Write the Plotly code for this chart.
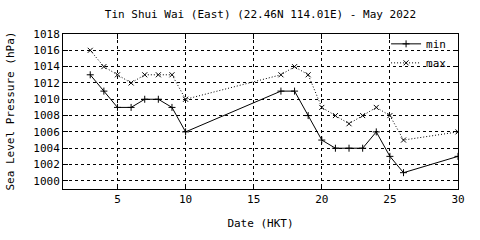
import plotly.graph_objects as go

days_min = [3, 4, 5, 6, 7, 8, 9, 10, 17, 18, 19, 20, 21, 22, 23, 24, 25, 26, 30]
p_min = [1013, 1011, 1009, 1009, 1010, 1010, 1009, 1006, 1011, 1011, 1008, 1005, 1004, 1004, 1004, 1006, 1003, 1001, 1003]
days_max = [3, 4, 5, 6, 7, 8, 9, 10, 17, 18, 19, 20, 21, 22, 23, 24, 25, 26, 30]
p_max = [1016, 1014, 1013, 1012, 1013, 1013, 1013, 1010, 1013, 1014, 1013, 1009, 1008, 1007, 1008, 1009, 1008, 1005, 1006]
x_ticks = [5, 10, 15, 20, 25, 30]
y_ticks = list(range(1000, 1019, 2))
x_range = [1, 30]
y_range = [999, 1018]

FONT = "DejaVu Sans Mono"

fig = go.Figure()
fig.add_trace(go.Scatter(
    x=days_min, y=p_min, name="min", mode="lines+markers",
    line=dict(color="black", width=1),
    marker=dict(symbol="cross-thin", size=5, line=dict(color="black", width=1)),
))
fig.add_trace(go.Scatter(
    x=days_max, y=p_max, name="max", mode="lines+markers",
    line=dict(color="black", width=1, dash="1px,2px"),
    marker=dict(symbol="x-thin", size=5, line=dict(color="black", width=1)),
))

axis_common = dict(
    showline=True, linecolor="black", linewidth=1, mirror="ticks",
    ticks="inside", ticklen=5, tickcolor="black",
    showgrid=True, gridcolor="#000000", griddash="dot", gridwidth=1,
    zeroline=False,
    tickfont=dict(family=FONT, size=11, color="black"),
)

fig.update_xaxes(range=x_range, tickvals=x_ticks,
                 title=dict(text="Date (HKT)", font=dict(family=FONT, size=11, color="black"), standoff=14),
                 **axis_common)
fig.update_yaxes(range=y_range, tickvals=y_ticks, **axis_common)

fig.add_annotation(text="Sea Level Pressure (hPa)", textangle=-90,
                   xref="paper", yref="paper", x=(10 - 63) / 395, y=0.5,
                   xanchor="center", yanchor="middle", showarrow=False,
                   font=dict(family=FONT, size=11, color="black"))

fig.update_layout(
    width=480, height=240,
    margin=dict(l=63, r=22, t=34, b=36),
    paper_bgcolor="white", plot_bgcolor="white",
    title=dict(text="Tin Shui Wai (East) (22.46N 114.01E) - May 2022",
               x=0.5425, xanchor="center", y=0.94, yanchor="middle",
               font=dict(family=FONT, size=11, color="black")),
    font=dict(family=FONT, size=11, color="black"),
    legend=dict(x=0.985, y=1.03, xanchor="right", yanchor="top",
                bgcolor="rgba(0,0,0,0)", borderwidth=0,
                font=dict(family=FONT, size=11, color="black"),
                itemwidth=30, tracegroupgap=0),
    showlegend=True,
)

fig.write_html("out.html")
